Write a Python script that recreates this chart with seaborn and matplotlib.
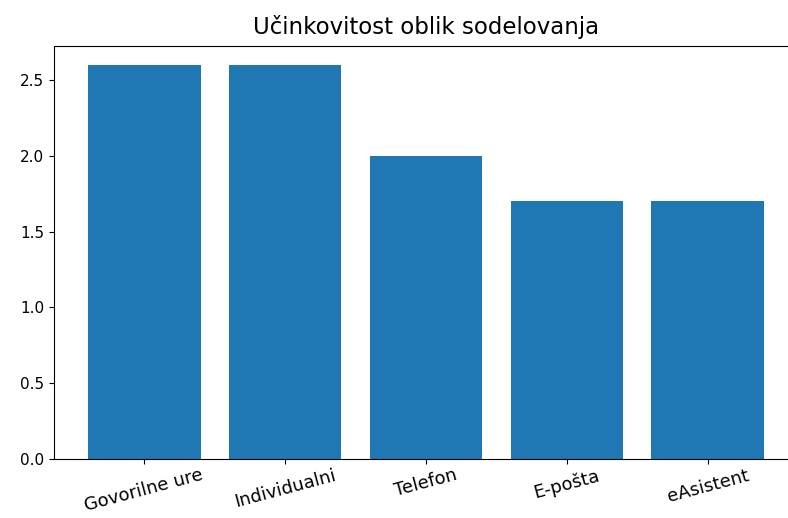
import matplotlib
matplotlib.use("Agg")
import matplotlib.pyplot as plt
import seaborn as sns
import pandas as pd

oblike = ["Govorilne ure", "Individualni", "Telefon", "E-pošta", "eAsistent"]
ocene = [2.6, 2.6, 2.0, 1.7, 1.7]

df = pd.DataFrame({"oblika": oblike, "ocena": ocene})

fig, ax = plt.subplots(figsize=(7.88, 5.18), dpi=100)
sns.barplot(data=df, x="oblika", y="ocena", color="#1f77b4", saturation=1,
            width=0.8, ax=ax)
ax.set_xlim(-0.64, 4.64)
ax.set_title("Učinkovitost oblik sodelovanja", fontsize=16.5, pad=8)
ax.set_xlabel("")
ax.set_ylabel("")
ax.tick_params(axis="y", labelsize=11)
ax.tick_params(axis="x", labelrotation=15, labelsize=13, pad=2)
# the reference picture is cut off at the right, so the axes runs past the edge
fig.subplots_adjust(left=0.0685, right=1.0127, top=0.912, bottom=0.1145)
fig.savefig("out.png", dpi=100)
